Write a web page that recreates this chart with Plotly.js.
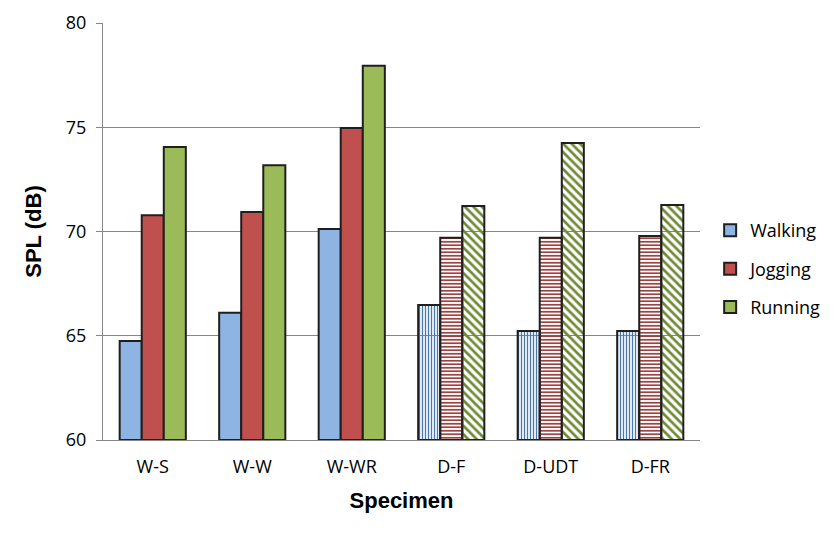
<!DOCTYPE html>
<html>
<head>
<meta charset="utf-8">
<script src="https://cdn.plot.ly/plotly-3.0.1.min.js"></script>
<style>html,body{margin:0;padding:0;background:#fff;}#chart{width:840px;height:538px;}</style>
</head>
<body>
<div id="chart"></div>
<script>
var specimens = ['W-S', 'W-W', 'W-WR', 'D-F', 'D-UDT', 'D-FR'];
var walking = [64.75, 66.1, 70.12, 66.47, 65.23, 65.23];
var jogging = [70.78, 70.93, 74.96, 69.7, 69.7, 69.78];
var running = [74.05, 73.18, 77.95, 71.22, 74.24, 71.27];
var seriesNames = ['Walking', 'Jogging', 'Running'];
var patternShapes = ['|', '-', '\\'];
var patternSizes = [3, 3.5, 6];
var fillColors = ['#8EB4E3', '#C0504D', '#9BBB59'];
var hatchColors = ['#4A78AA', '#8E2F2D', '#6F8A35'];

var values = [walking, jogging, running];
var traces = values.map(function (vals, i) {
  var isD = specimens.map(function (s) { return s.charAt(0) === 'D'; });
  return {
    type: 'bar',
    name: seriesNames[i],
    legendgroup: seriesNames[i],
    x: specimens,
    y: vals.map(function (v) { return v - 60; }),
    base: 60,
    marker: {
      color: isD.map(function (d) { return d ? hatchColors[i] : fillColors[i]; }),
      line: { color: '#1F1F1F', width: 2 },
      pattern: {
        shape: isD.map(function (d) { return d ? patternShapes[i] : ''; }),
        fgcolor: isD.map(function () { return hatchColors[i]; }),
        bgcolor: isD.map(function () { return '#FFFFFF'; }),
        fgopacity: 1,
        size: patternSizes[i],
        solidity: 0.45,
        fillmode: 'replace'
      }
    },
    hoverinfo: 'x+y'
  };
});

var layout = {
  width: 840,
  height: 538,
  margin: { l: 103, r: 140, t: 23, b: 98 },
  paper_bgcolor: '#FFFFFF',
  plot_bgcolor: '#FFFFFF',
  barmode: 'group',
  bargap: 0.335,
  bargroupgap: 0,
  font: { family: 'Open Sans, sans-serif', size: 18, color: '#000000' },
  xaxis: {
    title: { text: 'Specimen', font: { family: 'Liberation Sans, Arial, sans-serif', size: 22, weight: 'bold' }, standoff: 16 },
    showline: true,
    linecolor: '#868686',
    linewidth: 1,
    ticks: '',
    ticklabelstandoff: 10,
    tickfont: { size: 18 },
    automargin: false
  },
  yaxis: {
    title: { text: 'SPL (dB)', font: { family: 'Liberation Sans, Arial, sans-serif', size: 22, weight: 'bold' }, standoff: 18 },
    range: [60, 80],
    dtick: 5,
    showline: true,
    linecolor: '#868686',
    linewidth: 1,
    ticks: 'outside',
    ticklen: 6,
    tickcolor: '#868686',
    ticklabelstandoff: 6,
    showgrid: true,
    gridcolor: '#868686',
    gridwidth: 1,
    zeroline: false,
    tickfont: { size: 18 },
    automargin: false
  },
  showlegend: true,
  legend: {
    x: 1.017,
    xanchor: 'left',
    y: 0.41,
    yanchor: 'middle',
    traceorder: 'grouped',
    tracegroupgap: 12,
    font: { size: 18, family: 'Open Sans, sans-serif' },
    bgcolor: 'rgba(0,0,0,0)'
  }
};

Plotly.newPlot('chart', traces, layout, { displayModeBar: false, staticPlot: true });
</script>
</body>
</html>
